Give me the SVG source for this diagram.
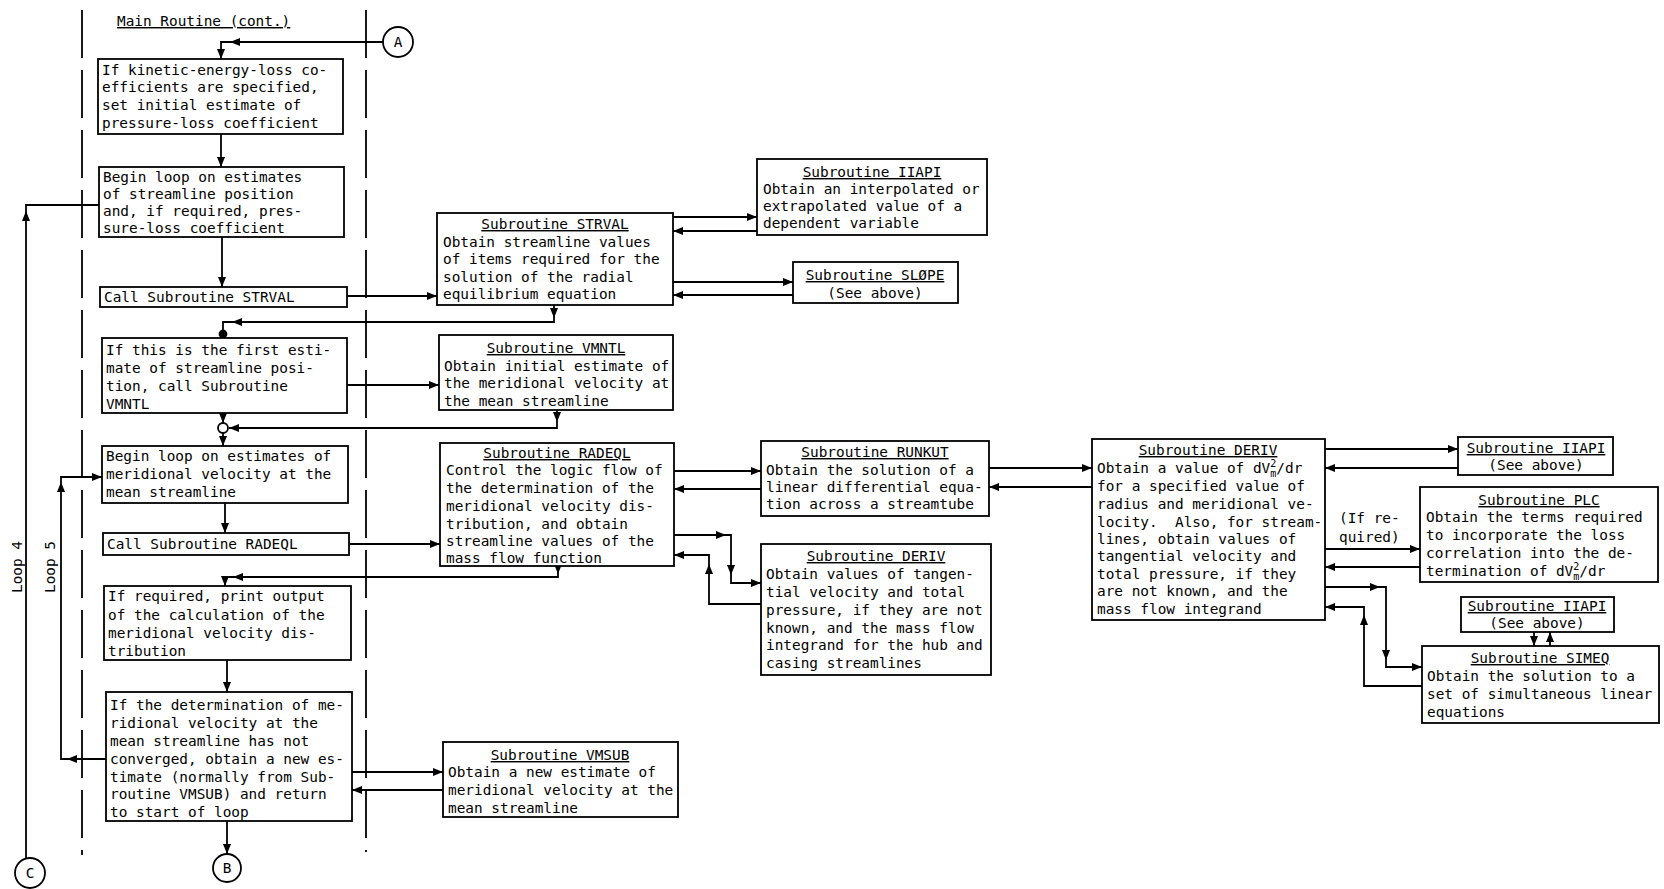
<svg xmlns="http://www.w3.org/2000/svg" width="1664" height="889" viewBox="0 0 1664 889">
<style>
text{font-family:"DejaVu Sans Mono","Liberation Mono",monospace;font-size:14.4px;fill:#000;white-space:pre}
.t{text-anchor:middle;text-decoration:underline}
.c{text-anchor:middle}
rect{fill:#fff;stroke:#000;stroke-width:1.8}
.ln{fill:none;stroke:#000;stroke-width:1.8}
.a{fill:none;stroke:#000;stroke-width:1.8;marker-end:url(#ah)}
.dash{fill:none;stroke:#000;stroke-width:1.8;stroke-dasharray:48 12}
circle{fill:#fff;stroke:#000;stroke-width:1.8}
</style>
<defs>
<marker id="ah" viewBox="0 0 10 8" refX="10" refY="4" markerWidth="10" markerHeight="8" orient="auto" markerUnits="userSpaceOnUse"><path d="M0,0 L10,4 L0,8 z" fill="#000"/></marker>
</defs>
<rect x="0" y="0" width="1664" height="889" style="stroke:none"/>
<g id="frame">
<path class="dash" d="M82,10 V855"/>
<path class="dash" d="M366,10 V852"/>
<text x="117" y="26" style="text-decoration:underline">Main Routine (cont.)</text>
<text transform="translate(22,567) rotate(-90)" class="c">Loop 4</text>
<text transform="translate(55,567) rotate(-90)" class="c">Loop 5</text>
</g>
<g id="connectors">
<path class="a" d="M383,42 H230"/>
<path class="a" d="M230,42 H221 V59"/>
<path class="a" d="M221,134 V167"/>
<path class="a" d="M222,237 V287"/>
<path class="a" d="M347,296 H437"/>
<path class="a" d="M673,217 H757"/>
<path class="a" d="M757,231 H673"/>
<path class="a" d="M673,282 H793"/>
<path class="a" d="M793,295 H673"/>
<path class="a" d="M554,305 V318"/>
<path class="a" d="M554,318 V322 H232"/>
<path class="ln" d="M232,322 H223 V338"/>
<circle cx="223" cy="334" r="3.5" style="fill:#000"/>
<path class="a" d="M347,385 H439"/>
<path class="a" d="M557,410 V422"/>
<path class="a" d="M557,422 V428 H229"/>
<path class="a" d="M223,413 V423"/>
<path class="a" d="M223,433 V446"/>
<circle cx="223" cy="428" r="5"/>
<path class="a" d="M225,503 V533"/>
<path class="a" d="M349,544 H440"/>
<path class="a" d="M674,471 H761"/>
<path class="a" d="M761,489 H674"/>
<path class="a" d="M989,468 H1092"/>
<path class="a" d="M1092,487 H989"/>
<path class="a" d="M674,535 H726"/>
<path class="a" d="M726,535 H731 V575"/>
<path class="a" d="M731,575 V583 H761"/>
<path class="a" d="M761,604 H709 V564"/>
<path class="a" d="M709,564 V555 H674"/>
<path class="a" d="M558,566 V574"/>
<path class="a" d="M558,574 V577 H233"/>
<path class="a" d="M233,577 H225 V586"/>
<path class="a" d="M227,660 V692"/>
<path class="a" d="M106,759 H67"/>
<path class="a" d="M67,759 H61 V482"/>
<path class="a" d="M61,482 V477 H102"/>
<path class="a" d="M352,772 H443"/>
<path class="a" d="M443,790 H352"/>
<path class="a" d="M227,821 V854"/>
<path class="a" d="M26,858 V211"/>
<path class="ln" d="M26,211 V205 H99"/>
<path class="a" d="M1325,449 H1458"/>
<path class="a" d="M1458,468 H1325"/>
<path class="a" d="M1325,549 H1420"/>
<path class="a" d="M1420,567 H1325"/>
<path class="a" d="M1325,587 H1380"/>
<path class="a" d="M1380,587 H1386 V660"/>
<path class="a" d="M1386,660 V667 H1422"/>
<path class="a" d="M1422,686 H1364 V615"/>
<path class="a" d="M1364,615 V607 H1325"/>
<path class="a" d="M1534,632 V646"/>
<path class="a" d="M1550,646 V632"/>
<text x="1339" y="523">(If re-</text>
<text x="1339" y="542">quired)</text>
</g>
<g id="connA"><circle cx="398" cy="42" r="15"/><text x="398" y="47" class="c">A</text></g>
<g id="connB"><circle cx="227" cy="868" r="14"/><text x="227" y="873" class="c">B</text></g>
<g id="connC"><circle cx="30" cy="873" r="15"/><text x="30" y="878" class="c">C</text></g>
<g id="box1"><rect x="98" y="59" width="245" height="75"/>
<text x="102" y="75">If kinetic-energy-loss co-</text>
<text x="102" y="92">efficients are specified,</text>
<text x="102" y="110">set initial estimate of</text>
<text x="102" y="128">pressure-loss coefficient</text></g>
<g id="box2"><rect x="99" y="167" width="245" height="70"/>
<text x="103" y="182">Begin loop on estimates</text>
<text x="103" y="199">of streamline position</text>
<text x="103" y="216">and, if required, pres-</text>
<text x="103" y="233">sure-loss coefficient</text></g>
<g id="box3"><rect x="100" y="287" width="247" height="20"/>
<text x="104" y="302">Call Subroutine STRVAL</text></g>
<g id="box4"><rect x="102" y="338" width="245" height="75"/>
<text x="106" y="355">If this is the first esti-</text>
<text x="106" y="373">mate of streamline posi-</text>
<text x="106" y="391">tion, call Subroutine</text>
<text x="106" y="409">VMNTL</text></g>
<g id="box5"><rect x="102" y="446" width="246" height="57"/>
<text x="106" y="461">Begin loop on estimates of</text>
<text x="106" y="479">meridional velocity at the</text>
<text x="106" y="497">mean streamline</text></g>
<g id="box6"><rect x="103" y="533" width="246" height="22"/>
<text x="107" y="549">Call Subroutine RADEQL</text></g>
<g id="box7"><rect x="104" y="586" width="247" height="74"/>
<text x="108" y="601">If required, print output</text>
<text x="108" y="620">of the calculation of the</text>
<text x="108" y="638">meridional velocity dis-</text>
<text x="108" y="656">tribution</text></g>
<g id="box8"><rect x="106" y="692" width="246" height="129"/>
<text x="110" y="710">If the determination of me-</text>
<text x="110" y="728">ridional velocity at the</text>
<text x="110" y="746">mean streamline has not</text>
<text x="110" y="764">converged, obtain a new es-</text>
<text x="110" y="782">timate (normally from Sub-</text>
<text x="110" y="799">routine VMSUB) and return</text>
<text x="110" y="817">to start of loop</text></g>
<g id="strval"><rect x="437" y="213" width="236" height="92"/>
<text x="555" y="229" class="t">Subroutine STRVAL</text>
<text x="443" y="247">Obtain streamline values</text>
<text x="443" y="264">of items required for the</text>
<text x="443" y="282">solution of the radial</text>
<text x="443" y="299">equilibrium equation</text></g>
<g id="iiapi1"><rect x="757" y="159" width="230" height="76"/>
<text x="872" y="177" class="t">Subroutine IIAPI</text>
<text x="763" y="194">Obtain an interpolated or</text>
<text x="763" y="211">extrapolated value of a</text>
<text x="763" y="228">dependent variable</text></g>
<g id="slope"><rect x="793" y="262" width="165" height="41"/>
<text x="875" y="280" class="t">Subroutine SLØPE</text>
<text x="875" y="298" class="c">(See above)</text></g>
<g id="vmntl"><rect x="439" y="335" width="234" height="75"/>
<text x="556" y="353" class="t">Subroutine VMNTL</text>
<text x="444" y="371">Obtain initial estimate of</text>
<text x="444" y="388">the meridional velocity at</text>
<text x="444" y="406">the mean streamline</text></g>
<g id="radeql"><rect x="440" y="443" width="234" height="123"/>
<text x="557" y="458" class="t">Subroutine RADEQL</text>
<text x="446" y="475">Control the logic flow of</text>
<text x="446" y="493">the determination of the</text>
<text x="446" y="511">meridional velocity dis-</text>
<text x="446" y="529">tribution, and obtain</text>
<text x="446" y="546">streamline values of the</text>
<text x="446" y="563">mass flow function</text></g>
<g id="runkut"><rect x="761" y="441" width="228" height="75"/>
<text x="875" y="457" class="t">Subroutine RUNKUT</text>
<text x="766" y="475">Obtain the solution of a</text>
<text x="766" y="492">linear differential equa-</text>
<text x="766" y="509">tion across a streamtube</text></g>
<g id="deriv1"><rect x="761" y="544" width="230" height="131"/>
<text x="876" y="561" class="t">Subroutine DERIV</text>
<text x="766" y="579">Obtain values of tangen-</text>
<text x="766" y="597">tial velocity and total</text>
<text x="766" y="615">pressure, if they are not</text>
<text x="766" y="633">known, and the mass flow</text>
<text x="766" y="650">integrand for the hub and</text>
<text x="766" y="668">casing streamlines</text></g>
<g id="vmsub"><rect x="443" y="742" width="235" height="75"/>
<text x="560" y="760" class="t">Subroutine VMSUB</text>
<text x="448" y="777">Obtain a new estimate of</text>
<text x="448" y="795">meridional velocity at the</text>
<text x="448" y="813">mean streamline</text></g>
<g id="deriv2"><rect x="1092" y="439" width="233" height="181"/>
<text x="1208" y="455" class="t">Subroutine DERIV</text>
<text x="1097" y="473">Obtain a value of dV<tspan font-size="10" dy="4">m</tspan><tspan font-size="10" dx="-6" dy="-10">2</tspan><tspan dy="6">/dr</tspan></text>
<text x="1097" y="491">for a specified value of</text>
<text x="1097" y="509">radius and meridional ve-</text>
<text x="1097" y="527">locity.&#160; Also, for stream-</text>
<text x="1097" y="544">lines, obtain values of</text>
<text x="1097" y="561">tangential velocity and</text>
<text x="1097" y="579">total pressure, if they</text>
<text x="1097" y="596">are not known, and the</text>
<text x="1097" y="614">mass flow integrand</text></g>
<g id="iiapi2"><rect x="1458" y="437" width="155" height="38"/>
<text x="1536" y="453" class="t">Subroutine IIAPI</text>
<text x="1536" y="470" class="c">(See above)</text></g>
<g id="plc"><rect x="1420" y="487" width="238" height="95"/>
<text x="1539" y="505" class="t">Subroutine PLC</text>
<text x="1426" y="522">Obtain the terms required</text>
<text x="1426" y="540">to incorporate the loss</text>
<text x="1426" y="558">correlation into the de-</text>
<text x="1426" y="576">termination of dV<tspan font-size="10" dy="4">m</tspan><tspan font-size="10" dx="-6" dy="-10">2</tspan><tspan dy="6">/dr</tspan></text></g>
<g id="iiapi3"><rect x="1461" y="597" width="153" height="35"/>
<text x="1537" y="611" class="t">Subroutine IIAPI</text>
<text x="1537" y="628" class="c">(See above)</text></g>
<g id="simeq"><rect x="1422" y="646" width="237" height="77"/>
<text x="1540" y="663" class="t">Subroutine SIMEQ</text>
<text x="1427" y="681">Obtain the solution to a</text>
<text x="1427" y="699">set of simultaneous linear</text>
<text x="1427" y="717">equations</text></g>
</svg>
